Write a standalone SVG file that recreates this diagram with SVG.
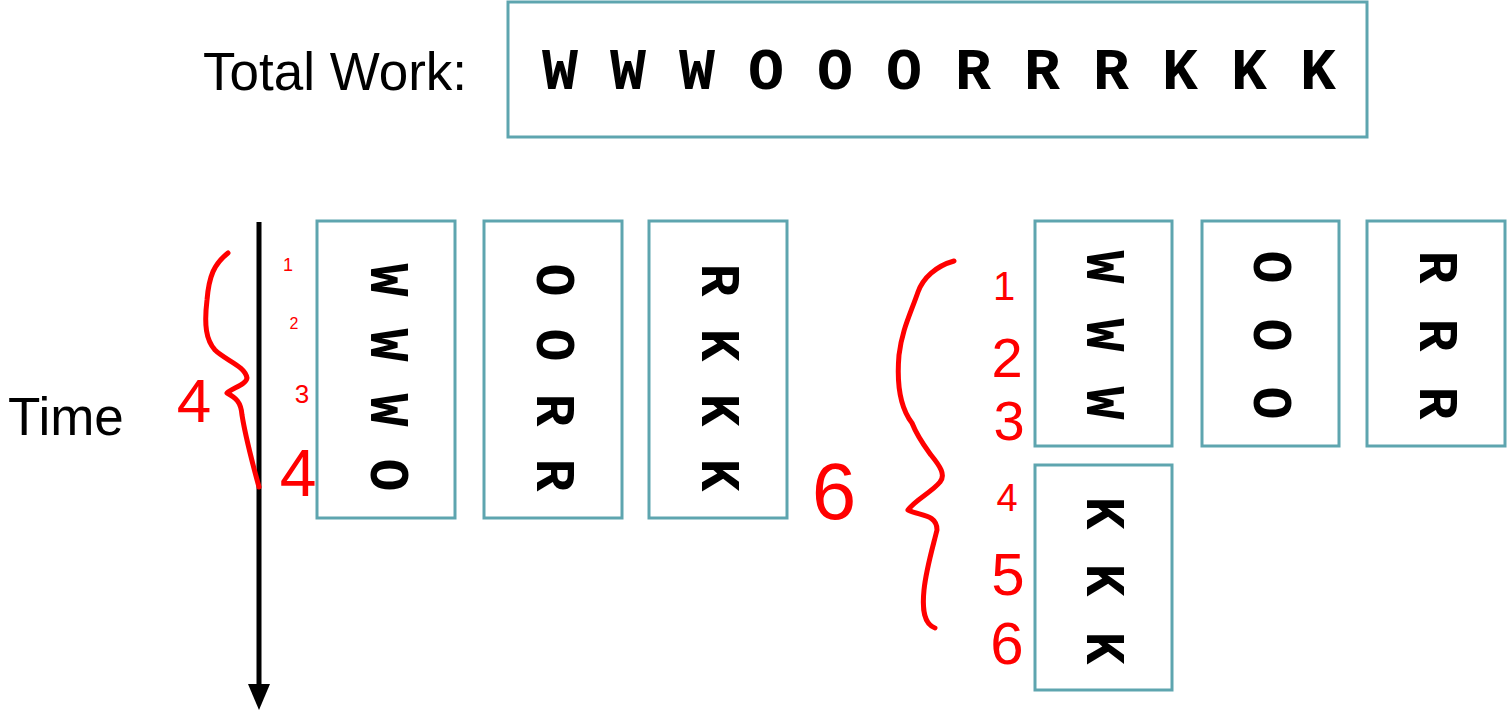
<svg xmlns="http://www.w3.org/2000/svg" width="1507" height="715" viewBox="0 0 1507 715">
<style>
.box{fill:#fff;stroke:#5ea5af;stroke-width:3}
.lt{font-family:"Liberation Mono","Courier New",monospace;font-weight:bold;font-size:60px;fill:#000;text-anchor:middle}
.rl{font-size:55px}
.lbl{font-family:"Liberation Sans",Arial,sans-serif;font-size:53px;fill:#000}
.red{fill:none;stroke:#ff0000;stroke-width:5;stroke-linecap:round;stroke-linejoin:round}
.rt{font-family:"Liberation Sans",Arial,sans-serif;fill:#ff0000;text-anchor:middle}
</style>
<rect width="1507" height="715" fill="#fff"/>

<g id="total-label"><text class="lbl" x="203" y="90">Total Work:</text></g>
<g id="total-box">
<rect class="box" x="508" y="2" width="859" height="135"/>
<g class="lt">
<text x="560" y="89">W</text><text x="628" y="89">W</text><text x="697" y="89">W</text>
<text x="766" y="89">O</text><text x="835" y="89">O</text><text x="904" y="89">O</text>
<text x="973" y="89">R</text><text x="1042" y="89">R</text><text x="1111" y="89">R</text>
<text x="1180" y="89">K</text><text x="1249" y="89">K</text><text x="1318" y="89">K</text>
</g>
</g>

<g id="time-label"><text class="lbl" x="8" y="435" font-size="54">Time</text></g>

<g id="connectors">
<line x1="259" y1="222" x2="259" y2="688" stroke="#000" stroke-width="5"/>
<polygon points="248,684 270,684 259,710" fill="#000"/>
</g>

<g id="left-box-1">
<rect class="box" x="317" y="221" width="138" height="297"/>
<g class="lt rl">
<text transform="translate(387,280) rotate(90)" y="16">W</text>
<text transform="translate(387,345) rotate(90)" y="16">W</text>
<text transform="translate(387,410) rotate(90)" y="16">W</text>
<text transform="translate(387,475) rotate(90)" y="16">O</text>
</g>
</g>
<g id="left-box-2">
<rect class="box" x="484" y="221" width="138" height="297"/>
<g class="lt rl">
<text transform="translate(553,280) rotate(90)" y="16">O</text>
<text transform="translate(553,345) rotate(90)" y="16">O</text>
<text transform="translate(553,410) rotate(90)" y="16">R</text>
<text transform="translate(553,475) rotate(90)" y="16">R</text>
</g>
</g>
<g id="left-box-3">
<rect class="box" x="649" y="221" width="138" height="297"/>
<g class="lt rl">
<text transform="translate(718,280) rotate(90)" y="16">R</text>
<text transform="translate(718,345) rotate(90)" y="16">K</text>
<text transform="translate(718,410) rotate(90)" y="16">K</text>
<text transform="translate(718,475) rotate(90)" y="16">K</text>
</g>
</g>

<g id="right-box-w">
<rect class="box" x="1035" y="221" width="137" height="225"/>
<g class="lt rl">
<text transform="translate(1103,267) rotate(90)" y="16">W</text>
<text transform="translate(1103,335) rotate(90)" y="16">W</text>
<text transform="translate(1103,403) rotate(90)" y="16">W</text>
</g>
</g>
<g id="right-box-o">
<rect class="box" x="1202" y="221" width="137" height="225"/>
<g class="lt rl">
<text transform="translate(1270,267) rotate(90)" y="16">O</text>
<text transform="translate(1270,335) rotate(90)" y="16">O</text>
<text transform="translate(1270,403) rotate(90)" y="16">O</text>
</g>
</g>
<g id="right-box-r">
<rect class="box" x="1367" y="221" width="138" height="225"/>
<g class="lt rl">
<text transform="translate(1436,267) rotate(90)" y="16">R</text>
<text transform="translate(1436,335) rotate(90)" y="16">R</text>
<text transform="translate(1436,403) rotate(90)" y="16">R</text>
</g>
</g>
<g id="right-box-k">
<rect class="box" x="1035" y="465" width="137" height="225"/>
<g class="lt rl">
<text transform="translate(1103,513) rotate(90)" y="16">K</text>
<text transform="translate(1103,580) rotate(90)" y="16">K</text>
<text transform="translate(1103,648) rotate(90)" y="16">K</text>
</g>
</g>

<g id="annotation-left">
<path class="red" d="M228,253 C214,264 209,276 207,300 C204,325 206,340 215,350 C225,360 245,366 247,378 C246,385 232,388 227,393 C236,398 241,402 242,415 C246,440 253,465 259,487"/>
<text class="rt" x="194" y="422" font-size="62">4</text>
<text class="rt" x="288" y="271" font-size="18">1</text>
<text class="rt" x="294" y="329" font-size="16">2</text>
<text class="rt" x="302" y="403" font-size="26">3</text>
<text class="rt" x="298" y="496" font-size="66">4</text>
</g>

<g id="annotation-right">
<path class="red" d="M954,261 C936,266 923,278 918,292 C910,315 902,330 899,355 C896,390 902,410 912,423 C918,438 926,448 931,455 C940,466 946,475 940,482 C932,492 915,500 908,510 C920,516 937,514 937,530 C932,550 926,570 924,590 C922,610 924,624 935,628"/>
<text class="rt" x="834" y="519" font-size="80">6</text>
<text class="rt" x="1004" y="300" font-size="40">1</text>
<text class="rt" x="1007" y="377" font-size="56">2</text>
<text class="rt" x="1009" y="440" font-size="56">3</text>
<text class="rt" x="1007" y="511" font-size="38">4</text>
<text class="rt" x="1008" y="595" font-size="60">5</text>
<text class="rt" x="1007" y="664" font-size="60">6</text>
</g>
</svg>
